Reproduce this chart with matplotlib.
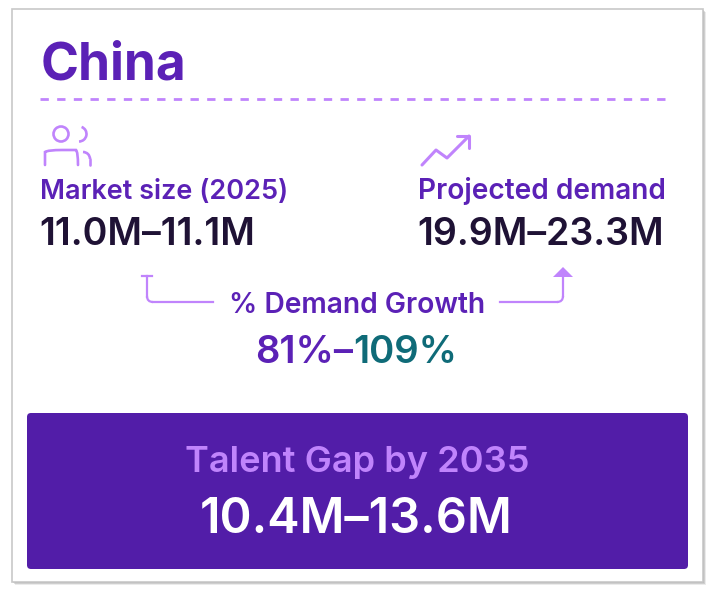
import matplotlib
matplotlib.use('Agg')
import matplotlib.pyplot as plt
from matplotlib import font_manager
from matplotlib.patches import FancyBboxPatch, Rectangle, Circle, Arc, Polygon, PathPatch
from matplotlib.path import Path

# values shown on the card
country = 'China'
metric_labels = ['Market size (2025)', 'Projected demand']
metric_values = ['11.0M–11.1M', '19.9M–23.3M']
growth_label = '% Demand Growth'
growth_low = '81%–'
growth_high = '109%'
gap_label = 'Talent Gap by 2035'
gap_value = '10.4M–13.6M'

PURPLE = '#5B21B6'
LIGHT = '#C084FC'
DARK = '#1F1235'
TEAL = '#0F6B78'
BOX = '#521DA8'

plt.rcParams['font.family'] = ['Inter', 'DejaVu Sans']

# pick the Inter weight closest to what the card uses
num = {'ultralight': 200, 'light': 300, 'normal': 400, 'regular': 400, 'book': 400,
       'medium': 500, 'semibold': 600, 'demibold': 600, 'bold': 700, 'heavy': 800, 'black': 900}
have = set()
for f in font_manager.fontManager.ttflist:
    if f.name == 'Inter':
        w = f.weight
        have.add(num.get(w, 400) if isinstance(w, str) else int(w))
if not have:
    have = {400, 700}


def pick(target):
    return min(sorted(have), key=lambda w: abs(w - target))


W_MID = pick(600)

fig = plt.figure(figsize=(7.16, 5.98), dpi=100)
ax = fig.add_axes([0, 0, 1, 1])
ax.set_xlim(0, 716)
ax.set_ylim(598, 0)
ax.axis('off')

# card with a soft shadow
for i, a in enumerate([0.08, 0.12, 0.18]):
    off = 3 - i
    ax.add_patch(Rectangle((12 + off, 9 + off), 691, 573, facecolor='black', alpha=a, lw=0, zorder=1))
ax.add_patch(Rectangle((12, 9), 691, 573, facecolor='white', edgecolor='#C8C8C8', lw=1.2, zorder=2))

# title and dashed rule
ax.text(41, 79, country, fontsize=37, fontweight=pick(700), color=PURPLE, va='baseline', zorder=3)
ax.plot([40, 670], [99, 99], color=LIGHT, lw=2, dashes=(3, 3), zorder=3)

# people icon
lw_icon = 1.9
ax.add_patch(Circle((61, 134), 7.5, fill=False, ec=LIGHT, lw=lw_icon, zorder=3))
ax.add_patch(Arc((79, 134), 15, 15, theta1=-70, theta2=90, ec=LIGHT, lw=lw_icon, zorder=3))
body = Path([(45, 165), (45, 152), (48, 150), (62, 150), (76, 150), (78, 152), (78, 165)],
            [Path.MOVETO, Path.LINETO, Path.CURVE3, Path.CURVE3, Path.LINETO, Path.CURVE3, Path.CURVE3])
ax.add_patch(PathPatch(body, fill=False, ec=LIGHT, lw=lw_icon, capstyle='round', zorder=3))
ax.add_patch(Arc((83, 159), 14, 14, theta1=-90, theta2=0, ec=LIGHT, lw=lw_icon, zorder=3))
ax.plot([90, 90], [159, 165], color=LIGHT, lw=lw_icon, solid_capstyle='round', zorder=3)

# trend icon
ax.plot([422, 436, 447, 469], [165, 150, 158, 136], color=LIGHT, lw=2.2,
        solid_capstyle='round', solid_joinstyle='round', zorder=3)
ax.plot([457, 469, 469], [136, 136, 148], color=LIGHT, lw=2.2,
        solid_capstyle='round', solid_joinstyle='round', zorder=3)

# metrics
for x, lab, val, fs in zip([40, 418], metric_labels, metric_values, [19.5, 20.2]):
    ax.text(x, 199, lab, fontsize=fs, fontweight=W_MID, color=PURPLE, va='baseline', zorder=3)
    ax.text(x - 1, 245, val, fontsize=27, fontweight=W_MID, color=DARK, va='baseline', zorder=3)

# connector lines
ax.plot([142, 152], [276, 276], color=LIGHT, lw=1.6, zorder=3)
ax.plot([147, 147], [276, 297], color=LIGHT, lw=1.6, zorder=3)
left = Path([(147, 296), (147, 302), (153, 302)], [Path.MOVETO, Path.CURVE3, Path.CURVE3])
ax.add_patch(PathPatch(left, fill=False, ec=LIGHT, lw=1.6, zorder=3))
ax.plot([153, 213], [302, 302], color=LIGHT, lw=1.6, zorder=3)
ax.plot([500, 557], [302, 302], color=LIGHT, lw=1.6, zorder=3)
right = Path([(557, 302), (563, 302), (563, 296)], [Path.MOVETO, Path.CURVE3, Path.CURVE3])
ax.add_patch(PathPatch(right, fill=False, ec=LIGHT, lw=1.6, zorder=3))
ax.plot([563, 563], [296, 276], color=LIGHT, lw=1.6, zorder=3)
ax.add_patch(Polygon([(553, 277), (573, 277), (563, 267)], closed=True, fc=LIGHT, ec='none', zorder=3))

ax.text(357, 313, growth_label, fontsize=20.3, fontweight=W_MID, color=PURPLE,
        ha='center', va='baseline', zorder=3)

# two-colour growth range, centred as a whole
r = fig.canvas.get_renderer()
t1 = ax.text(0, 363, growth_low, fontsize=27.5, fontweight=W_MID, color=PURPLE, va='baseline', zorder=3)
t2 = ax.text(0, 363, growth_high, fontsize=27.5, fontweight=W_MID, color=TEAL, va='baseline', zorder=3)
w1 = t1.get_window_extent(r).width
w2 = t2.get_window_extent(r).width
x0 = 356 - (w1 + w2) / 2
t1.set_x(x0)
t2.set_x(x0 + w1)

# talent gap box
ax.add_patch(FancyBboxPatch((27, 413), 661, 156, boxstyle='round,pad=0,rounding_size=4',
                            fc=BOX, ec='none', zorder=3))
ax.text(357, 472, gap_label, fontsize=26, fontweight=W_MID, color=LIGHT,
        ha='center', va='baseline', zorder=4)
ax.text(356, 533, gap_value, fontsize=35, fontweight=W_MID, color='white',
        ha='center', va='baseline', zorder=4)

fig.savefig('out.png', dpi=100)
